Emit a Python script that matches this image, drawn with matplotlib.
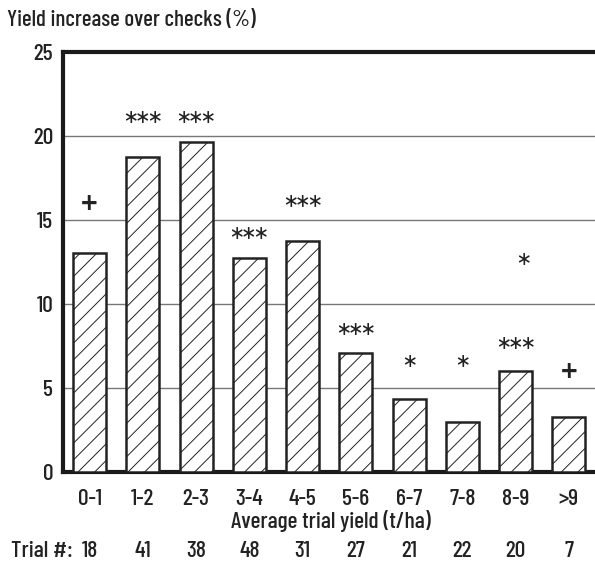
import matplotlib
matplotlib.use("Agg")
import matplotlib.pyplot as plt

plt.rcParams['font.family'] = ['Barlow Condensed', 'DejaVu Sans']
plt.rcParams['font.weight'] = 'medium'
plt.rcParams['axes.labelweight'] = 'medium'
plt.rcParams['hatch.linewidth'] = 0.7
plt.rcParams['hatch.color'] = '#333333'

categories = ['0-1', '1-2', '2-3', '3-4', '4-5', '5-6', '6-7', '7-8', '8-9', '>9']
yield_increase = [13.0, 18.75, 19.65, 12.7, 13.75, 7.1, 4.35, 3.0, 6.0, 3.3]
trial_counts = [18, 41, 38, 48, 31, 27, 21, 22, 20, 7]
# significance marks: (bar index, label, height in %)
sig_marks = [(0, '+', 16.1), (1, '***', 21.1), (2, '***', 21.1), (3, '***', 14.2),
             (4, '***', 16.1), (5, '***', 8.5), (6, '*', 6.6), (7, '*', 6.6),
             (8, '***', 7.7), (8, '*', 12.7), (9, '+', 6.1)]

TXT = '#222222'
FS = 17

fig = plt.figure(figsize=(5.95, 5.62), dpi=100)
ax = fig.add_axes([63/595, 90/562, (598-63)/595, (472-51.7)/562])

x = list(range(len(categories)))
ax.set_axisbelow(True)
ax.yaxis.grid(True, color='#777777', linewidth=1.0)
ax.bar(x, yield_increase, width=0.62, facecolor='white', edgecolor='#222222',
       linewidth=1.8, hatch='//', zorder=3)

for i, label, h in sig_marks:
    dx = 0.15 if (i == 8 and label == '*') else 0.0
    if label == '+':
        ax.text(i + dx, h, label, ha='center', va='center_baseline', fontsize=27,
                color=TXT, fontweight='medium', zorder=4)
    else:
        ax.text(i + dx, h - 0.45, label, ha='center', va='center_baseline', fontsize=25,
                color=TXT, fontweight='regular', zorder=4)

ax.set_xlim(-0.5, 9.55)
ax.set_ylim(0, 25)
ax.set_yticks([0, 5, 10, 15, 20, 25])
ax.set_xticks(x)
ax.set_xticklabels(categories)
ax.tick_params(axis='both', length=0, labelsize=FS, colors=TXT)
ax.tick_params(axis='y', pad=7)
ax.tick_params(axis='x', pad=12)

for side in ('left', 'top', 'bottom'):
    ax.spines[side].set_linewidth(3)
    ax.spines[side].set_color('#1a1a1a')
ax.spines['right'].set_visible(False)

ax.set_xlabel('Average trial yield (t/ha)', fontsize=FS, color=TXT, labelpad=1)
fig.text(7/595, 1 - 20/562, 'Yield increase over checks (%)', fontsize=16.5,
         color=TXT, va='center', ha='left')

# trial counts row under the axis
fig.text(11/595, 1 - 551/562, 'Trial #:', fontsize=FS, color=TXT,
         va='center', ha='left')
for i, n in enumerate(trial_counts):
    xd = ax.transData.transform((i, 0))[0]
    fig.text(xd / fig.bbox.width, 1 - 551/562, str(n), fontsize=FS, color=TXT,
             va='center', ha='center')

fig.savefig('out.png', dpi=100)
